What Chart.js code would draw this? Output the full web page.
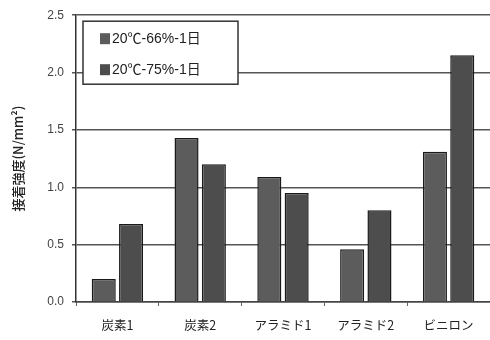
<!DOCTYPE html>
<html>
<head>
<meta charset="utf-8">
<script src="https://cdn.jsdelivr.net/npm/chart.js@4/dist/chart.umd.min.js"></script>
<style>
  html, body { margin: 0; padding: 0; background: #fff; }
  #wrap { width: 490px; height: 340px; }
</style>
</head>
<body>
<div id="wrap"><canvas id="c" width="490" height="340"></canvas></div>
<script>
const categories = ['炭素1', '炭素2', 'アラミド1', 'アラミド2', 'ビニロン'];
const series66 = [0.20, 1.43, 1.09, 0.46, 1.31];
const series75 = [0.68, 1.20, 0.95, 0.80, 2.15];
const seriesNames = ['20℃-66%-1日', '20℃-75%-1日'];
const yTicks = [0, 0.5, 1.0, 1.5, 2.0, 2.5];
const yTitle = '接着強度(N/mm²)';

const FONT = "'Liberation Sans', 'Noto Sans CJK JP', sans-serif";
const JFONT = "'Noto Sans CJK JP', 'Liberation Sans', sans-serif";

// Boxed legend drawn inside the upper-left of the plot area
const boxLegend = {
  id: 'boxLegend',
  afterDraw(chart) {
    const ctx = chart.ctx;
    const a = chart.chartArea;
    const x = a.left + 7, y = a.top + 6, w = 155, h = 63;
    ctx.save();
    ctx.fillStyle = '#fff';
    ctx.fillRect(x, y, w, h);
    ctx.strokeStyle = '#333';
    ctx.lineWidth = 1.5;
    ctx.strokeRect(x, y, w, h);
    chart.data.datasets.forEach((ds, i) => {
      const cy = y + 18 + i * 31;
      ctx.fillStyle = ds.backgroundColor;
      ctx.fillRect(x + 17, cy - 6, 10, 11);
      ctx.fillStyle = '#222';
      ctx.font = '14px ' + FONT;
      ctx.textBaseline = 'middle';
      ctx.textAlign = 'left';
      ctx.fillText(ds.label, x + 29, cy);
    });
    ctx.restore();
  }
};

new Chart(document.getElementById('c'), {
  type: 'bar',
  data: {
    labels: categories,
    datasets: [
      { label: seriesNames[0], data: series66, backgroundColor: '#5c5c5c', borderColor: '#1a1a1a', borderWidth: 1.5 },
      { label: seriesNames[1], data: series75, backgroundColor: '#4d4d4d', borderColor: '#1a1a1a', borderWidth: 1.5 }
    ]
  },
  options: {
    responsive: false,
    animation: false,
    devicePixelRatio: 1,
    layout: { padding: { top: 11, right: 0, bottom: 0, left: 10 } },
    datasets: { bar: { categoryPercentage: 0.66, barPercentage: 0.88 } },
    plugins: { legend: { display: false }, tooltip: { enabled: false } },
    scales: {
      x: {
        afterFit(axis) { axis.height = 38; },
        grid: { display: true, drawOnChartArea: false, drawTicks: true, tickLength: 4, color: '#666', offset: true },
        border: { color: '#444', width: 1.5 },
        ticks: { color: '#222', font: { family: JFONT, size: 12.5 }, padding: 12 }
      },
      y: {
        min: 0, max: 2.5,
        afterBuildTicks(axis) { axis.ticks = yTicks.map(v => ({ value: v })); },
        afterFit(axis) { axis.width = 66; },
        grid: { color: '#555', lineWidth: 1.5, drawTicks: true, tickLength: 4 },
        border: { color: '#333', width: 1.5 },
        ticks: { color: '#444', font: { family: FONT, size: 12 }, padding: 8, callback: v => Number(v).toFixed(1) },
        title: { display: true, text: yTitle, color: '#222', font: { family: JFONT, size: 13, weight: '500' }, padding: { top: 0, bottom: 4 } }
      }
    }
  },
  plugins: [boxLegend]
});
</script>
</body>
</html>
